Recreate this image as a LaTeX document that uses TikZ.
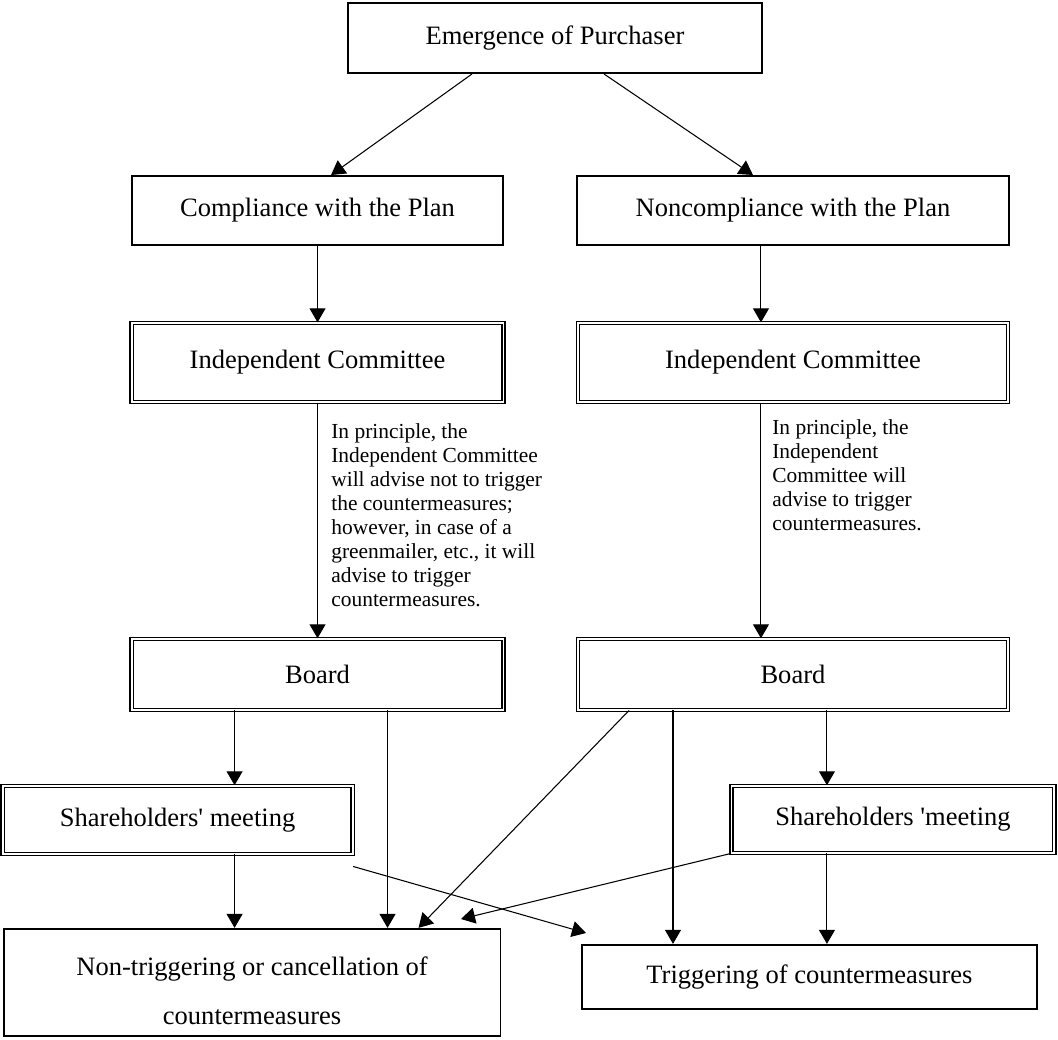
\documentclass[tikz,border=0pt]{standalone}
\usepackage{fontspec}
\setmainfont{Liberation Serif}
\usetikzlibrary{arrows.meta, positioning}
\newcommand{\boxfont}{\fontsize{15.1}{27.9}\selectfont}
\newcommand{\notefont}{\fontsize{12.2}{13.7}\selectfont}
\tikzset{node distance = 2cm, on grid,
	 >= {Triangle[length=2.8mm, width=3.2mm]},
	 plainbox/.style = {draw, line width=1.1pt, inner sep=0pt,
			    align=center, font=\boxfont},
	 twinbox/.style = {draw, double, line width=0.7pt,
			   double distance=1.1pt, inner sep=0pt,
			   font=\boxfont},
	 note/.style = {align=left, inner sep=0pt, anchor=north west,
			font=\notefont},
	 link/.style = {->, line width=0.6pt}}

\begin{document}
\begin{tikzpicture}[x=0.02cm, y=-0.02cm]
      \useasboundingbox (0,0) rectangle (1058,1039);
      \node [plainbox, minimum width=8.28cm, minimum height=1.4cm] (emerg) at (555,38) {Emergence of Purchaser};
      \node [plainbox, minimum width=7.42cm, minimum height=1.38cm] (comp) [below left = 3.45cm and 4.75cm of emerg] {Compliance with the Plan};
      \node [plainbox, minimum width=8.64cm, minimum height=1.38cm] (noncomp) [below right = 3.45cm and 4.76cm of emerg] {Noncompliance with the Plan};
      \node [twinbox, minimum width=7.44cm, minimum height=1.58cm] (ic1) [below = 3.04cm of comp] {Independent Committee};
      \node [twinbox, minimum width=8.6cm, minimum height=1.58cm] (ic2) [below = 3.04cm of noncomp] {Independent Committee};
      \node [twinbox, minimum width=7.44cm, minimum height=1.42cm] (board1) [below = 6.24cm of ic1] {Board};
      \node [twinbox, minimum width=8.6cm, minimum height=1.42cm] (board2) [below = 6.24cm of ic2] {Board};
      \node [twinbox, minimum width=7cm, minimum height=1.36cm] (share1) [below left = 2.91cm and 2.8cm of board1] {Shareholders\textquotesingle{} meeting};
      \node [twinbox, minimum width=6.46cm, minimum height=1.34cm] (share2) [below right = 2.9cm and 2cm of board2] {Shareholders \textquotesingle meeting};
      \node [plainbox, minimum width=9.94cm, minimum height=2.14cm] (nontrig) [below right = 3.25cm and 1.49cm of share1] {\rule{0pt}{20pt}Non-triggering or cancellation of\\countermeasures};
      \node [plainbox, minimum width=9.1cm, minimum height=1.28cm] (trig) [below left = 3.15cm and 1.67cm of share2] {Triggering of countermeasures};

      \node [note] (note1) at (331,423) {In principle, the\\Independent Committee\\will advise not to trigger\\the countermeasures;\\however, in case of a\\greenmailer, etc., it will\\advise to trigger\\countermeasures.};
      \node [note] (note2) at (772,419) {In principle, the\\Independent\\Committee will\\advise to trigger\\countermeasures.};

      \coordinate (v2) at ([xshift=-0.64cm]ic2.north);
      \coordinate (s1) at ([xshift=1.14cm]share1.north);
      \coordinate (n1) at ([xshift=2.71cm]nontrig.north);
      \coordinate (t1) at ([xshift=-2.73cm]trig.north);
      \coordinate (s2) at ([xshift=-1.32cm]share2.north);
      \coordinate (tip1) at (461,919);
      \coordinate (tip2) at (586,933);

      \draw [link] ([xshift=-1.66cm]emerg.south) -- ([xshift=0.27cm]comp.north);
      \draw [link] ([xshift=0.98cm]emerg.south) -- ([xshift=-0.8cm]noncomp.north);
      \draw [link] (ic1.north |- comp.south) -- (ic1.north);
      \draw [link] (v2 |- noncomp.south) -- (v2);
      \draw [link] (ic1.south) -- (ic1.south |- board1.north);
      \draw [link] (v2 |- ic2.south) -- (v2 |- board2.north);
      \draw [link] (s1 |- board1.south) -- (s1);
      \draw [link] (n1 |- board1.south) -- (n1);
      \draw [link] (s1 |- share1.south) -- (s1 |- nontrig.north);
      \draw [link] (t1 |- board2.south) -- (t1);
      \draw [link] (s2 |- board2.south) -- (s2);
      \draw [link] (s2 |- share2.south) -- (s2 |- trig.north);
      \draw [link] ([xshift=-3.28cm]board2.south) -- ([xshift=3.33cm]nontrig.north);
      \draw [link] (share2.south west) -- (tip1);
      \draw [link] ([yshift=-0.24cm]share1.south east) -- (tip2);
\end{tikzpicture}
\end{document}
